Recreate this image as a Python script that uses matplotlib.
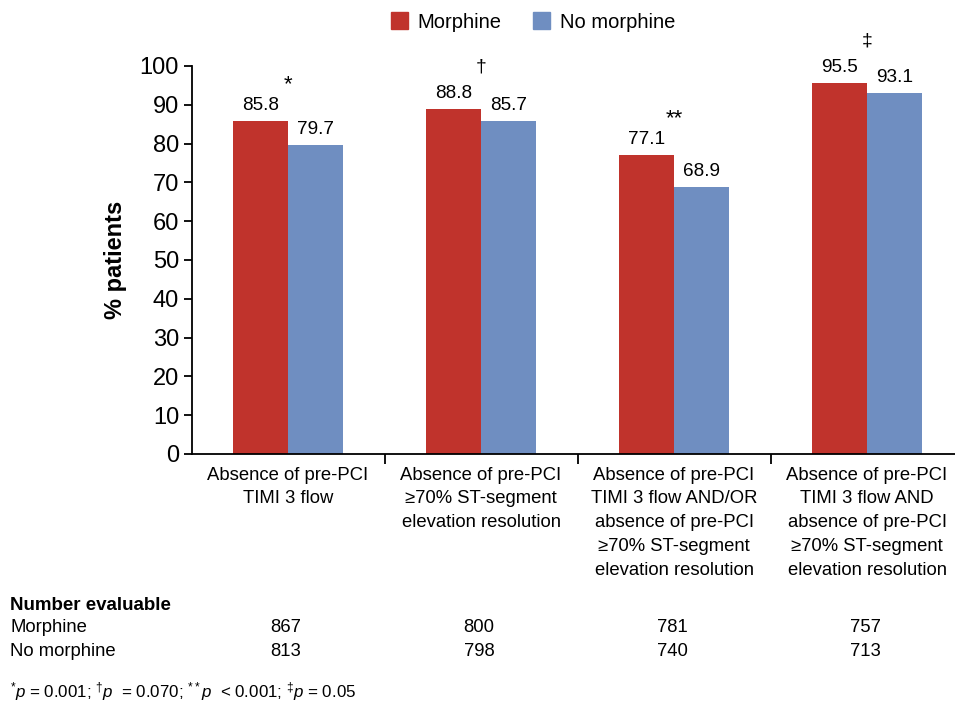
import matplotlib
matplotlib.use("Agg")
import matplotlib.pyplot as plt
import numpy as np
from matplotlib.patches import Patch

plt.rcParams['font.family'] = ['Liberation Sans', 'DejaVu Sans']
plt.rcParams['mathtext.fontset'] = 'custom'
plt.rcParams['mathtext.rm'] = 'Liberation Sans'
plt.rcParams['mathtext.it'] = 'Liberation Sans:italic'
plt.rcParams['mathtext.bf'] = 'Liberation Sans:bold'

categories = [
    "Absence of pre-PCI\nTIMI 3 flow",
    "Absence of pre-PCI\n\u226570% ST-segment\nelevation resolution",
    "Absence of pre-PCI\nTIMI 3 flow AND/OR\nabsence of pre-PCI\n\u226570% ST-segment\nelevation resolution",
    "Absence of pre-PCI\nTIMI 3 flow AND\nabsence of pre-PCI\n\u226570% ST-segment\nelevation resolution",
]
morphine = [85.8, 88.8, 77.1, 95.5]
no_morphine = [79.7, 85.7, 68.9, 93.1]
significance = ["*", "\u2020", "**", "\u2021"]
n_morphine = [867, 800, 781, 757]
n_no_morphine = [813, 798, 740, 713]
series_names = ["Morphine", "No morphine"]
yticks = [0, 10, 20, 30, 40, 50, 60, 70, 80, 90, 100]

red = "#C0332C"
blue = "#6F8EC1"

fig = plt.figure(figsize=(9.55, 7.03), dpi=100)
W, H = 955, 703
ax = fig.add_axes([191.5 / W, 1 - 454 / H, 772 / W, (454 - 66) / H])

x = np.arange(len(categories))
bw = 0.285
ax.bar(x - bw / 2, morphine, bw, color=red, label=series_names[0])
ax.bar(x + bw / 2, no_morphine, bw, color=blue, label=series_names[1])

for xi, v in zip(x, morphine):
    ax.annotate(f"{v:.1f}", (xi - bw / 2, v), xytext=(0, 8), textcoords="offset points",
                ha="center", va="baseline", fontsize=13.7)
for xi, v in zip(x, no_morphine):
    ax.annotate(f"{v:.1f}", (xi + bw / 2, v), xytext=(0, 8), textcoords="offset points",
                ha="center", va="baseline", fontsize=13.7)
for xi, m, nm, s in zip(x, morphine, no_morphine, significance):
    off = 22 if "*" in s else 27
    fs = 16 if "*" in s else 14
    ax.annotate(s, (xi, max(m, nm)), xytext=(0, off), textcoords="offset points",
                ha="center", va="baseline", fontsize=fs)

ax.set_xlim(-0.5, 3.5)
ax.set_ylim(0, 100)
ax.set_yticks(yticks)
ax.tick_params(axis="y", labelsize=17, length=6, width=1.3, pad=3)
ax.set_xticks(x)
ax.set_xticklabels(categories, fontsize=13.3, linespacing=1.52, va="top")
ax.tick_params(axis="x", length=0, pad=9)
ax.set_xticks([0.5, 1.5, 2.5], minor=True)
ax.tick_params(axis="x", which="minor", length=7, width=1.3, direction="out")
for sp in ["top", "right"]:
    ax.spines[sp].set_visible(False)
for sp in ["left", "bottom"]:
    ax.spines[sp].set_linewidth(1.3)

ax.set_ylabel("% patients", fontsize=17, fontweight="bold")
ax.yaxis.set_label_coords(-0.084, 0.5)

handles = [Patch(color=red), Patch(color=blue)]
fig.legend(handles, series_names, loc="center", bbox_to_anchor=(533 / W, 1 - 22 / H),
           ncol=2, frameon=False, fontsize=14.5, handlelength=0.85, handleheight=0.85,
           handletextpad=0.5, columnspacing=1.55)

# Number evaluable table
fig.text(10 / W, 1 - 605 / H, "Number evaluable", fontsize=13.5, fontweight="bold",
         ha="left", va="center")
fig.text(10 / W, 1 - 628 / H, series_names[0], fontsize=13.3, ha="left", va="center")
fig.text(10 / W, 1 - 651 / H, series_names[1], fontsize=13.3, ha="left", va="center")
trans = matplotlib.transforms.blended_transform_factory(ax.transData, fig.transFigure)
for xi, a, b in zip(x, n_morphine, n_no_morphine):
    fig.text(xi - 0.01, 1 - 628 / H, str(a), fontsize=13.3, ha="center", va="center", transform=trans)
    fig.text(xi - 0.01, 1 - 651 / H, str(b), fontsize=13.3, ha="center", va="center", transform=trans)

fig.text(10 / W, 1 - 692 / H,
         r"$^{*}p$ = 0.001; $^{\dagger}p$  = 0.070; $^{**}p$  < 0.001; $^{\ddagger}p$ = 0.05",
         fontsize=12.2, ha="left", va="center")

fig.savefig("out.png", dpi=100)
